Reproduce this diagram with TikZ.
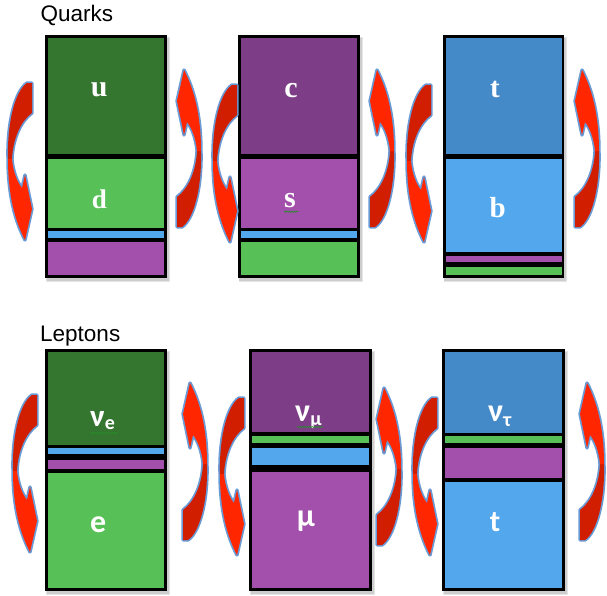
\documentclass[tikz,border=0pt]{standalone}
\usepackage{fontspec}
\setmainfont{Liberation Sans}
\newfontfamily\qfont{Liberation Serif}
\newfontfamily\lfont{Carlito}
\usetikzlibrary{decorations.pathmorphing}
\definecolor{dgreen}{RGB}{52,117,48}
\definecolor{lgreen}{RGB}{87,192,86}
\definecolor{dpurple}{RGB}{125,62,135}
\definecolor{lpurple}{RGB}{162,80,171}
\definecolor{dblue}{RGB}{68,137,200}
\definecolor{lblue}{RGB}{82,167,237}
\definecolor{arrowred}{RGB}{255,38,0}
\definecolor{arrowdark}{RGB}{210,30,0}
\definecolor{arrowblue}{RGB}{105,155,215}
\definecolor{squiggreen}{RGB}{40,140,40}
\tikzset{
  shadowbox/.style={fill=black, opacity=0.10},
  outerbox/.style={fill=black},
  cell/.style={fill=#1},
  qlabel/.style={text=white, inner sep=0pt, font=\qfont\bfseries\fontsize{#1}{#1}\selectfont},
  llabel/.style={text=white, inner sep=0pt, font=\lfont\bfseries\fontsize{#1}{#1}\selectfont},
  title/.style={inner sep=0pt, anchor=base west, font=\fontsize{22.5}{22.5}\selectfont},
  squig/.style={draw=squiggreen, line width=0.6pt, decorate, decoration={snake, amplitude=0.7pt, segment length=2.4pt}},
  curvarrow/.pic={
    \path[draw=arrowblue, line width=3.4pt, line join=round]
      (19,0) -- (24,0) -- (24,30) .. controls (13,38) and (5,55) .. (4,76)
      .. controls (5,88) and (9,99) .. (14,105) -- (17,92) -- (24,126) -- (17,157)
      .. controls (7,138) and (0,112) .. (0,76) .. controls (-1,40) and (7,8) .. (19,0) -- cycle;
    \fill[arrowdark] (19,0) -- (24,0) -- (24,30) .. controls (13,38) and (5,55) .. (4,76)
      -- (0,76) .. controls (-1,40) and (7,8) .. (19,0) -- cycle;
    \fill[arrowred] (0,76) -- (4,76) .. controls (5,88) and (9,99) .. (14,105) -- (17,92)
      -- (24,126) -- (17,157) .. controls (7,138) and (0,112) .. (0,76) -- cycle;
  }
}
\newcommand{\boxshadow}[4]{%
  \fill[shadowbox] (#1+1,#2+2) rectangle (#3+3,#4+4);
  \fill[shadowbox] (#1+1.5,#2+2.5) rectangle (#3+2,#4+3);}
\begin{document}
\begin{tikzpicture}[x=1pt,y=-1pt]
\useasboundingbox (0,0) rectangle (607,595);
\fill[white] (0,0) rectangle (607,595);

% titles
\node[title] (quarks) at (40.5,21) {Quarks};
\node[title] (leptons) at (40,341) {Leptons};

% ---- Quarks column 1
\boxshadow{45}{35}{166.7}{278.3}
\path[outerbox] (45,35) rectangle (166.7,278.3);
\fill[cell=dgreen] (47.7,37.7) rectangle (164.3,154.3);
\fill[cell=lgreen] (47.7,159) rectangle (164.3,227.7);
\fill[cell=lblue] (47.7,230.7) rectangle (164.3,237.7);
\fill[cell=lpurple] (47.7,242.3) rectangle (164.3,274.7);
% column 2
\boxshadow{237.7}{35}{360}{278.3}
\path[outerbox] (237.7,35) rectangle (360,278.3);
\fill[cell=dpurple] (240.5,37.7) rectangle (357,154.3);
\fill[cell=lpurple] (240.5,159) rectangle (357,227.7);
\fill[cell=lblue] (240.5,230.7) rectangle (357,237.7);
\fill[cell=lgreen] (240.5,242.3) rectangle (357,274.7);
% column 3
\boxshadow{442.7}{35}{564.3}{278}
\path[outerbox] (442.7,35) rectangle (564.3,278);
\fill[cell=dblue] (445.5,37.7) rectangle (561.7,154.3);
\fill[cell=lblue] (445.5,159) rectangle (561.7,251.7);
\fill[cell=lpurple] (445.5,255.7) rectangle (561.7,261.7);
\fill[cell=lgreen] (445.5,266.7) rectangle (561.7,274.5);

% ---- Leptons column 1
\boxshadow{45}{349}{166.7}{590.7}
\path[outerbox] (45,349) rectangle (166.7,590.7);
\fill[cell=dgreen] (47.7,351.7) rectangle (164.3,445);
\fill[cell=lblue] (47.7,448.3) rectangle (164.3,454.3);
\fill[cell=lpurple] (47.7,460) rectangle (164.3,469.3);
\fill[cell=lgreen] (47.7,472.7) rectangle (164.3,588);
% column 2
\boxshadow{249.3}{349}{372}{590.7}
\path[outerbox] (249.3,349) rectangle (372,590.7);
\fill[cell=dpurple] (252.3,351.7) rectangle (369.3,432.3);
\fill[cell=lgreen] (252.3,435.7) rectangle (369.3,443.3);
\fill[cell=lblue] (252.3,448.3) rectangle (369.3,465);
\fill[cell=lpurple] (252.3,471.7) rectangle (369.3,588);
% column 3
\boxshadow{442.3}{349}{564.7}{590.7}
\path[outerbox] (442.3,349) rectangle (564.7,590.7);
\fill[cell=dblue] (445,351.7) rectangle (562.3,432.7);
\fill[cell=lgreen] (445,435.7) rectangle (562.3,442.7);
\fill[cell=lpurple] (445,447.7) rectangle (562.3,478.3);
\fill[cell=lblue] (445,481.7) rectangle (562.3,588);

% ---- quark labels
\node[qlabel=30] (lu) at (99.3,90) {u};
\node[qlabel=27] (ld) at (99.3,199.5) {d};
\node[qlabel=30] (lc) at (291,90.7) {c};
\node[qlabel=30] (ls) at (290,201) {s};
\node[qlabel=29] (lt) at (495,89) {t};
\node[qlabel=29] (lb) at (497.7,207.5) {b};
\draw[squig] (284,211.7) -- (298,211.7);

% ---- lepton labels
\node[llabel=31, anchor=base west] (lnue) at (90,426.5) {ν\raisebox{-2.5pt}{\fontsize{20}{20}\selectfont e}};
\node[llabel=32, anchor=base west] (lnumu) at (295,421.7) {ν\raisebox{-4pt}{\fontsize{20}{20}\selectfont μ}};
\node[llabel=32, anchor=base west] (lnutau) at (488,421.7) {ν\raisebox{-5pt}{\fontsize{20}{20}\selectfont τ}};
\node[llabel=32] (le) at (98.3,524.5) {e};
\node[llabel=32] (lmu) at (306,521.7) {μ};
\node[llabel=30] (ltau) at (495,522.5) {t};
\draw[squig] (90,433) -- (118,433);
\draw[squig] (297,427) -- (323,427);

% ---- arrows, top row
\pic at (8,83) {curvarrow};
\pic[rotate=180] at (201,227) {curvarrow};
\pic at (213,85) {curvarrow};
\pic[rotate=180] at (394,227) {curvarrow};
\pic at (407,85) {curvarrow};
\pic[rotate=180] at (599,227) {curvarrow};
% ---- arrows, bottom row
\pic at (13,395) {curvarrow};
\pic[rotate=180] at (207,540) {curvarrow};
\pic at (220,398) {curvarrow};
\pic[rotate=180] at (401,545) {curvarrow};
\pic at (413,398) {curvarrow};
\pic[rotate=180] at (604,540) {curvarrow};
\end{tikzpicture}
\end{document}
